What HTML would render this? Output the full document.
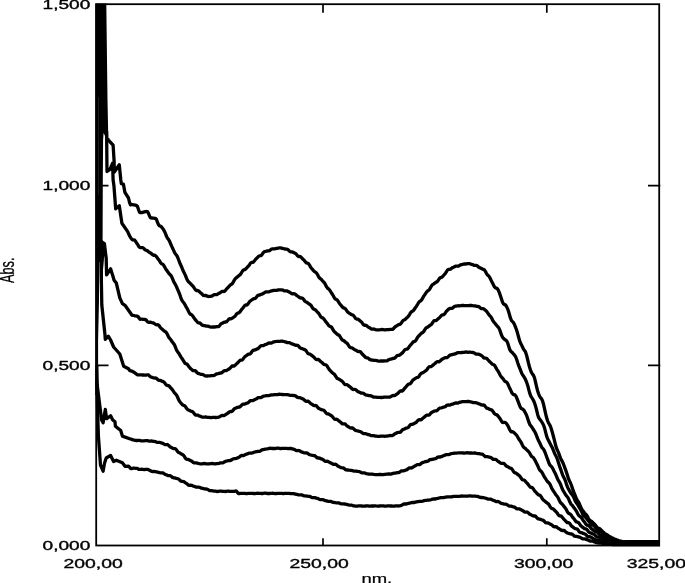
<!DOCTYPE html>
<html><head><meta charset="utf-8"><title>Abs. vs nm.</title>
<style>html,body{margin:0;padding:0;background:#fff}svg{display:block}</style></head>
<body><svg width="685" height="583" viewBox="0 0 685 583">
<rect width="685" height="583" fill="#fff"/>
<rect x="96.2" y="4.2" width="563.0" height="541.3" fill="none" stroke="#000" stroke-width="1.8"/>
<path d="M323.0 538.2V545.5 M323.0 4.2V12.8 M546.8 538.2V545.5 M546.8 4.2V12.8 M96.2 185.7H108.5 M648 185.7H660.3 M96.2 365.4H108.5 M648 365.4H660.3" stroke="#000" stroke-width="1.7" fill="none"/>
<polygon fill="#000" points="95.3,3.4 106.3,3.4 107.5,100 108.3,139 105.7,139 105.5,137 103.6,133 103.1,140 102.8,180 102.6,242 104.6,242.5 105.6,256 104.2,256.5 103,270 102.9,283 99.9,283 99.8,262 99.2,262 99.0,300 98.1,340 98.1,365 97,395 95.3,395"/>
<line x1="98.5" y1="97" x2="98.6" y2="195" stroke="#fff" stroke-width="0.4" opacity="0.3"/>
<clipPath id="cp"><rect x="95.3" y="3.3" width="564.8" height="543.1"/></clipPath><g clip-path="url(#cp)">
<polyline fill="none" stroke="#000" stroke-width="3.3" stroke-linejoin="round" stroke-linecap="butt" points="107.6,138.5 108.2,139.8 113.1,145.2 114.1,161.2 114.3,172.0 119.3,164.8 120.8,180.0 121.3,183.6 123.4,184.1 124.9,192.4 128.5,198.0 129.5,202.4 130.5,204.8 131.5,204.5 132.5,204.6 133.5,204.8 134.5,205.0 135.5,205.1 136.5,205.5 137.5,206.5 138.5,209.6 139.5,212.2 140.5,212.7 141.5,212.5 142.5,212.5 143.5,212.2 144.5,211.9 145.5,211.6 146.5,211.5 147.5,211.7 148.5,213.4 149.5,216.0 150.5,217.8 151.5,218.0 152.5,218.0 153.5,218.2 154.5,218.4 155.5,218.5 156.5,219.5 157.5,222.4 158.5,224.7 159.5,225.8 160.5,226.2 161.5,226.9 162.5,228.2 163.5,229.7 164.5,231.4 165.5,233.7 166.5,236.3 167.5,238.2 168.5,239.4 169.5,241.1 170.5,243.5 171.5,245.9 172.5,248.0 173.5,250.1 174.5,252.3 175.5,254.0 176.5,255.2 177.5,256.9 178.5,259.5 179.5,262.3 180.5,264.5 181.5,266.7 182.5,269.2 183.5,271.5 184.5,273.4 185.5,275.6 186.5,278.2 187.5,280.4 188.5,281.8 189.5,282.6 190.5,283.6 191.5,284.8 192.5,285.7 193.5,286.8 194.5,288.4 195.5,289.9 196.5,290.5 197.5,290.5 198.5,290.9 199.5,291.8 200.5,292.7 201.5,293.5 202.5,294.5 203.5,295.4 204.5,295.6 205.5,295.4 206.5,295.8 207.5,296.3 208.5,296.5 209.5,296.4 210.5,296.3 211.5,296.2 212.5,295.7 213.5,295.0 214.5,294.6 215.5,294.7 216.5,294.7 217.5,294.2 218.5,293.5 219.5,293.1 220.5,292.5 221.5,291.8 222.5,291.3 223.5,291.5 224.5,291.4 225.5,290.4 226.5,289.0 227.5,287.9 228.5,287.0 229.5,285.8 230.5,284.8 231.5,284.3 232.5,283.4 233.5,281.7 234.5,279.7 235.5,278.4 236.5,277.7 237.5,276.8 238.5,275.9 239.5,275.2 240.5,274.3 241.5,272.7 242.5,271.0 243.5,270.0 244.5,269.7 245.5,269.2 246.5,268.1 247.5,267.0 248.5,266.1 249.5,264.7 250.5,263.2 251.5,262.5 252.5,262.4 253.5,261.9 254.5,260.7 255.5,259.4 256.5,258.4 257.5,257.5 258.5,256.4 259.5,255.8 260.5,255.7 261.5,255.2 262.5,253.8 263.5,252.4 264.5,251.7 265.5,251.5 266.5,251.2 267.5,250.9 268.5,250.9 269.5,250.6 270.5,249.8 271.5,249.1 272.5,248.9 273.5,248.9 274.5,248.8 275.5,248.6 276.5,248.4 277.5,248.3 278.5,248.0 279.5,247.8 280.5,247.9 281.5,248.1 282.5,248.4 283.5,248.6 284.5,248.8 285.5,249.1 286.5,249.2 287.5,249.4 288.5,250.1 289.5,251.2 290.5,251.8 291.5,251.8 292.5,251.9 293.5,252.4 294.5,252.9 295.5,253.4 296.5,254.4 297.5,255.7 298.5,256.5 299.5,256.4 300.5,256.6 301.5,257.6 302.5,258.8 303.5,259.7 304.5,260.7 305.5,262.0 306.5,262.9 307.5,263.1 308.5,263.7 309.5,265.1 310.5,267.0 311.5,268.3 312.5,269.4 313.5,270.6 314.5,271.6 315.5,272.2 316.5,273.0 317.5,274.6 318.5,276.6 319.5,277.9 320.5,278.7 321.5,279.6 322.5,280.8 323.5,281.8 324.5,282.9 325.5,284.7 326.5,286.8 327.5,288.1 328.5,288.9 329.5,289.9 330.5,291.4 331.5,293.0 332.5,294.5 333.5,296.2 334.5,298.1 335.5,299.1 336.5,299.5 337.5,300.3 338.5,301.8 339.5,303.5 340.5,304.7 341.5,305.9 342.5,307.1 343.5,307.9 344.5,308.2 345.5,308.8 346.5,310.3 347.5,311.8 348.5,312.7 349.5,313.3 350.5,314.0 351.5,314.6 352.5,314.8 353.5,315.5 354.5,316.9 355.5,318.3 356.5,319.0 357.5,319.1 358.5,319.6 359.5,320.4 360.5,321.2 361.5,322.0 362.5,323.4 363.5,324.8 364.5,325.3 365.5,325.2 366.5,325.6 367.5,326.5 368.5,327.2 369.5,327.7 370.5,328.4 371.5,329.0 372.5,329.1 373.5,329.0 374.5,329.2 375.5,329.6 376.5,329.8 377.5,329.8 378.5,329.8 379.5,329.8 380.5,329.7 381.5,329.5 382.5,329.5 383.5,329.7 384.5,329.9 385.5,329.8 386.5,329.7 387.5,329.7 388.5,329.6 389.5,329.5 390.5,329.3 391.5,329.3 392.5,329.4 393.5,328.6 394.5,327.4 395.5,326.5 396.5,326.0 397.5,325.3 398.5,324.7 399.5,324.4 400.5,324.1 401.5,322.8 402.5,321.2 403.5,320.2 404.5,319.8 405.5,319.1 406.5,318.1 407.5,317.2 408.5,316.2 409.5,314.6 410.5,312.8 411.5,311.7 412.5,311.2 413.5,310.5 414.5,309.0 415.5,307.5 416.5,306.2 417.5,304.5 418.5,302.7 419.5,301.5 420.5,301.0 421.5,300.1 422.5,298.4 423.5,296.5 424.5,295.1 425.5,293.6 426.5,292.1 427.5,291.0 428.5,290.4 429.5,289.4 430.5,287.7 431.5,285.8 432.5,284.7 433.5,284.1 434.5,283.3 435.5,282.6 436.5,282.1 437.5,281.4 438.5,279.9 439.5,278.4 440.5,277.6 441.5,277.3 442.5,276.6 443.5,275.5 444.5,274.4 445.5,273.2 446.5,271.6 447.5,270.0 448.5,269.3 449.5,269.4 450.5,269.1 451.5,268.3 452.5,267.6 453.5,267.2 454.5,266.7 455.5,266.2 456.5,266.1 457.5,266.2 458.5,266.1 459.5,265.5 460.5,264.9 461.5,264.6 462.5,264.4 463.5,264.1 464.5,264.0 465.5,264.0 466.5,263.9 467.5,263.7 468.5,263.6 469.5,263.7 470.5,264.0 471.5,264.3 472.5,264.6 473.5,265.1 474.5,265.4 475.5,265.3 476.5,265.3 477.5,266.0 478.5,267.0 479.5,267.6 480.5,268.0 481.5,268.5 482.5,269.1 483.5,269.4 484.5,270.0 485.5,271.6 486.5,273.6 487.5,274.9 488.5,275.8 489.5,277.0 490.5,279.0 491.5,281.1 492.5,283.1 493.5,285.0 494.5,286.9 495.5,287.9 496.5,288.2 497.5,288.9 498.5,290.6 499.5,293.1 500.5,296.0 501.5,299.1 502.5,302.2 503.5,303.9 504.5,304.4 505.5,305.0 506.5,306.5 507.5,308.6 508.5,311.3 509.5,314.7 510.5,318.2 511.5,320.7 512.5,321.7 513.5,322.7 514.5,324.6 515.5,327.1 516.5,329.8 517.5,333.1 518.5,336.8 519.5,340.4 520.5,343.0 521.5,344.9 522.5,347.0 523.5,349.1 524.5,350.5 525.5,351.9 526.5,354.9 527.5,359.0 528.5,363.2 529.5,367.0 530.5,370.1 531.5,372.5 532.5,374.1 533.5,375.3 534.5,377.8 535.5,382.0 536.5,386.5 537.5,390.4 538.5,393.5 539.5,396.0 540.5,397.6 541.5,398.7 542.5,400.7 543.5,404.2 544.5,408.7 545.5,413.2 546.5,417.3 547.5,420.6 548.5,422.9 549.5,424.5 550.5,426.5 551.5,429.5 552.5,433.0 553.5,436.7 554.5,440.7 555.5,444.8 556.5,448.2 557.5,450.4 558.5,452.6 559.5,455.4 560.5,458.1 561.5,460.2 562.5,461.9 563.5,464.2 564.5,466.9 565.5,469.6 566.5,472.4 567.5,475.5 568.5,478.7 569.5,481.0 570.5,483.0 571.5,485.5 572.5,488.6 573.5,491.5 574.5,493.9 575.5,496.4 576.5,498.8 577.5,500.6 578.5,502.0 579.5,504.0 580.5,506.5 581.5,508.8 582.5,510.2 583.5,511.5 584.5,513.0 585.5,514.1 586.5,515.0 587.5,516.5 588.5,518.5 589.5,520.1 590.5,520.9 591.5,521.3 592.5,522.2 593.5,523.3 594.5,524.2 595.5,525.3 596.5,526.7 597.5,527.8 598.5,528.2 599.5,528.6 600.5,529.5 601.5,530.5 602.5,531.5 603.5,532.3 604.5,533.2 605.5,534.0 606.5,534.6 607.5,535.1 608.5,535.8 609.5,536.5 610.5,537.1 611.5,537.6 612.5,538.0 613.5,538.5 614.5,539.0 615.5,539.4 616.5,539.8 617.5,540.1 618.5,540.5 619.5,540.8 620.5,541.1 621.5,541.4 622.5,541.7 623.5,541.9 624.5,542.2 625.5,542.4 626.5,542.7 627.5,542.9 628.5,543.0 629.5,543.1 630.5,543.2 631.5,543.3 632.5,543.4 633.5,543.5 634.5,543.6 635.5,543.6 636.5,543.7 637.5,543.8 638.5,543.8 639.5,543.9 640.5,543.9 641.5,543.9 642.5,544.0 643.5,544.0 644.5,544.0 645.5,544.0 646.5,544.0 647.5,544.0 648.5,544.0 649.5,544.0 650.5,544.0 651.5,544.0 652.5,544.0 653.5,544.0 654.5,544.0 655.5,544.0 656.5,544.0 657.5,544.0 658.5,544.0 659.5,544.0"/>
<polyline fill="none" stroke="#000" stroke-width="3.3" stroke-linejoin="round" stroke-linecap="butt" points="106.6,131.0 107.0,171.5 110.0,169.4 112.6,163.2 113.1,180.0 113.9,185.4 115.7,208.8 119.3,205.7 121.9,223.2 127.7,231.6 128.7,234.1 129.7,236.1 130.7,237.7 131.7,239.1 132.7,239.8 133.7,239.9 134.7,240.2 135.7,241.5 136.7,243.2 137.7,244.5 138.7,246.4 139.7,247.5 140.7,247.7 141.7,247.7 142.7,247.7 143.7,248.3 144.7,249.6 145.7,250.2 146.7,250.4 147.7,251.0 148.7,251.9 149.7,252.5 150.7,253.1 151.7,253.9 152.7,254.8 153.7,255.3 154.7,255.2 155.7,255.8 156.7,257.1 157.7,258.4 158.7,259.7 159.7,261.2 160.7,262.8 161.7,263.8 162.7,264.2 163.7,265.3 164.7,267.1 165.7,269.0 166.7,270.3 167.7,271.7 168.7,273.2 169.7,274.3 170.7,275.2 171.7,276.8 172.7,279.2 173.7,281.6 174.7,283.3 175.7,285.1 176.7,287.3 177.7,289.6 178.7,291.8 179.7,294.3 180.7,297.3 181.7,299.9 182.7,301.5 183.7,302.6 184.7,304.2 185.7,306.1 186.7,307.8 187.7,309.6 188.7,311.7 189.7,313.5 190.7,314.4 191.7,314.8 192.7,315.8 193.7,317.5 194.7,318.9 195.7,320.1 196.7,321.3 197.7,322.5 198.7,322.9 199.7,322.9 200.7,323.6 201.7,324.8 202.7,325.4 203.7,325.5 204.7,325.7 205.7,326.0 206.7,326.1 207.7,326.1 208.7,326.4 209.7,326.8 210.7,327.0 211.7,327.1 212.7,327.0 213.7,327.0 214.7,327.0 215.7,326.9 216.7,326.6 217.7,326.7 218.7,326.6 219.7,325.5 220.7,324.1 221.7,323.4 222.7,323.1 223.7,322.6 224.7,322.1 225.7,322.0 226.7,321.6 227.7,320.5 228.7,319.2 229.7,318.7 230.7,318.8 231.7,318.5 232.7,317.8 233.7,317.2 234.7,316.5 235.7,315.2 236.7,313.8 237.7,313.1 238.7,312.9 239.7,312.2 240.7,310.8 241.7,309.4 242.7,308.2 243.7,306.9 244.7,305.6 245.7,305.0 246.7,305.0 247.7,304.4 248.7,302.9 249.7,301.5 250.7,300.7 251.7,300.0 252.7,299.2 253.7,298.7 254.7,298.7 255.7,298.1 256.7,296.8 257.7,295.5 258.7,295.1 259.7,295.0 260.7,294.5 261.7,294.1 262.7,293.8 263.7,293.3 264.7,292.5 265.7,292.0 266.7,291.9 267.7,291.9 268.7,291.8 269.7,291.5 270.7,291.2 271.7,290.9 272.7,290.6 273.7,290.3 274.7,290.3 275.7,290.3 276.7,290.3 277.7,290.0 278.7,289.9 279.7,289.9 280.7,289.8 281.7,289.9 282.7,290.1 283.7,290.6 284.7,290.9 285.7,290.9 286.7,290.9 287.7,291.3 288.7,291.8 289.7,292.3 290.7,292.9 291.7,293.6 292.7,293.9 293.7,293.7 294.7,293.8 295.7,294.5 296.7,295.5 297.7,296.2 298.7,296.8 299.7,297.6 300.7,298.0 301.7,298.0 302.7,298.3 303.7,299.5 304.7,301.0 305.7,301.8 306.7,302.2 307.7,302.9 308.7,303.7 309.7,304.2 310.7,305.0 311.7,306.5 312.7,308.2 313.7,309.1 314.7,309.5 315.7,310.1 316.7,311.3 317.7,312.3 318.7,313.4 319.7,315.0 320.7,316.7 321.7,317.6 322.7,317.9 323.7,318.7 324.7,320.1 325.7,321.6 326.7,322.8 327.7,324.1 328.7,325.5 329.7,326.3 330.7,326.6 331.7,327.4 332.7,329.1 333.7,330.8 334.7,331.9 335.7,332.8 336.7,333.8 337.7,334.6 338.7,335.0 339.7,336.0 340.7,337.7 341.7,339.3 342.7,340.2 343.7,340.6 344.7,341.4 345.7,342.3 346.7,343.0 347.7,344.0 348.7,345.6 349.7,347.1 350.7,347.7 351.7,347.8 352.7,348.2 353.7,349.1 354.7,349.7 355.7,350.1 356.7,350.7 357.7,351.4 358.7,351.6 359.7,351.5 360.7,352.0 361.7,353.4 362.7,354.6 363.7,355.5 364.7,356.5 365.7,357.5 366.7,357.8 367.7,357.8 368.7,358.5 369.7,359.5 370.7,359.9 371.7,360.0 372.7,360.1 373.7,360.3 374.7,360.4 375.7,360.4 376.7,360.6 377.7,360.9 378.7,361.1 379.7,361.1 380.7,361.0 381.7,361.0 382.7,361.0 383.7,361.0 384.7,360.9 385.7,360.9 386.7,360.9 387.7,360.4 388.7,359.7 389.7,359.3 390.7,359.1 391.7,358.9 392.7,358.5 393.7,358.4 394.7,358.1 395.7,357.2 396.7,356.0 397.7,355.4 398.7,355.4 399.7,355.1 400.7,354.2 401.7,353.4 402.7,352.6 403.7,351.3 404.7,349.9 405.7,349.3 406.7,349.2 407.7,348.7 408.7,347.4 409.7,346.0 410.7,344.9 411.7,343.7 412.7,342.4 413.7,341.6 414.7,341.3 415.7,340.6 416.7,338.9 417.7,337.1 418.7,336.0 419.7,335.0 420.7,333.9 421.7,333.0 422.7,332.5 423.7,331.6 424.7,329.9 425.7,328.3 426.7,327.5 427.7,327.1 428.7,326.4 429.7,325.5 430.7,324.9 431.7,324.0 432.7,322.5 433.7,321.1 434.7,320.6 435.7,320.6 436.7,320.2 437.7,319.2 438.7,318.3 439.7,317.5 440.7,316.3 441.7,315.2 442.7,314.8 443.7,314.6 444.7,313.8 445.7,312.3 446.7,310.9 447.7,310.0 448.7,309.1 449.7,308.5 450.7,308.4 451.7,308.4 452.7,308.0 453.7,307.1 454.7,306.3 455.7,306.1 456.7,306.0 457.7,305.8 458.7,305.7 459.7,305.8 460.7,305.7 461.7,305.5 462.7,305.4 463.7,305.5 464.7,305.7 465.7,305.7 466.7,305.7 467.7,305.7 468.7,305.6 469.7,305.5 470.7,305.4 471.7,305.5 472.7,305.7 473.7,305.8 474.7,305.9 475.7,306.0 476.7,306.3 477.7,306.4 478.7,306.6 479.7,307.4 480.7,308.2 481.7,308.7 482.7,308.7 483.7,308.9 484.7,309.7 485.7,310.6 486.7,311.5 487.7,312.9 488.7,314.4 489.7,315.6 490.7,316.6 491.7,318.2 492.7,320.3 493.7,321.9 494.7,323.0 495.7,324.2 496.7,325.5 497.7,326.6 498.7,327.8 499.7,329.7 500.7,332.7 501.7,335.6 502.7,337.5 503.7,338.6 504.7,339.5 505.7,340.1 506.7,341.0 507.7,343.0 508.7,346.2 509.7,349.4 510.7,351.2 511.7,352.0 512.7,353.0 513.7,354.2 514.7,355.3 515.7,356.9 516.7,359.5 517.7,362.8 518.7,365.6 519.7,368.0 520.7,370.6 521.7,373.2 522.7,375.0 523.7,376.4 524.7,378.1 525.7,380.1 526.7,382.4 527.7,385.4 528.7,389.3 529.7,393.2 530.7,395.8 531.7,397.5 532.7,399.1 533.7,401.0 534.7,403.4 535.7,406.6 536.7,410.5 537.7,414.7 538.7,417.6 539.7,419.2 540.7,420.4 541.7,421.9 542.7,423.5 543.7,425.5 544.7,428.6 545.7,432.6 546.7,436.4 547.7,439.0 548.7,440.8 549.7,442.8 550.7,444.8 551.7,446.6 552.7,448.6 553.7,451.1 554.7,453.7 555.7,455.6 556.7,457.5 557.7,460.2 558.7,463.5 559.7,466.6 560.7,469.4 561.7,472.3 562.7,475.1 563.7,477.2 564.7,479.1 565.7,481.7 566.7,484.9 567.7,487.5 568.7,489.4 569.7,491.1 570.7,492.9 571.7,494.2 572.7,495.4 573.7,497.2 574.7,499.7 575.7,501.9 576.7,503.3 577.7,504.6 578.7,506.4 579.7,508.2 580.7,509.8 581.7,511.8 582.7,514.2 583.7,516.0 584.7,516.7 585.7,517.4 586.7,518.6 587.7,520.0 588.7,521.2 589.7,522.4 590.7,523.9 591.7,525.0 592.7,525.2 593.7,525.5 594.7,526.6 595.7,527.9 596.7,529.0 597.7,529.7 598.7,530.6 599.7,531.3 600.7,531.7 601.7,532.1 602.7,533.0 603.7,534.0 604.7,534.8 605.7,535.3 606.7,535.9 607.7,536.5 608.7,537.1 609.7,537.6 610.7,538.2 611.7,538.7 612.7,539.1 613.7,539.5 614.7,539.9 615.7,540.3 616.7,540.6 617.7,541.0 618.7,541.3 619.7,541.5 620.7,541.8 621.7,542.0 622.7,542.2 623.7,542.3 624.7,542.5 625.7,542.7 626.7,542.8 627.7,543.0 628.7,543.1 629.7,543.2 630.7,543.4 631.7,543.5 632.7,543.6 633.7,543.7 634.7,543.8 635.7,543.8 636.7,543.9 637.7,544.0 638.7,544.0 639.7,544.0 640.7,544.0 641.7,544.0 642.7,544.0 643.7,544.0 644.7,544.0 645.7,544.0 646.7,544.0 647.7,544.0 648.7,544.0 649.7,544.0 650.7,544.0 651.7,544.0 652.7,544.0 653.7,544.0 654.7,544.0 655.7,544.0 656.7,544.0 657.7,544.0 658.7,544.0 659.5,544.0"/>
<polyline fill="none" stroke="#000" stroke-width="3.3" stroke-linejoin="round" stroke-linecap="butt" points="101.0,241.5 104.4,243.6 106.2,258.3 106.6,274.9 110.6,268.8 112.8,275.8 114.1,280.2 116.3,283.0 119.8,297.9 122.4,303.6 125.0,305.3 132.0,315.2 133.0,315.3 134.0,315.5 135.0,315.8 136.0,316.0 137.0,316.1 138.0,316.5 139.0,318.0 140.0,319.3 141.0,319.2 142.0,319.1 143.0,319.3 144.0,319.4 145.0,319.5 146.0,319.9 147.0,321.1 148.0,322.2 149.0,322.3 150.0,322.2 151.0,322.4 152.0,322.7 153.0,322.9 154.0,323.3 155.0,324.0 156.0,324.7 157.0,324.8 158.0,324.7 159.0,325.5 160.0,327.0 161.0,328.2 162.0,329.0 163.0,329.9 164.0,330.9 165.0,331.5 166.0,332.1 167.0,333.6 168.0,335.8 169.0,337.6 170.0,338.8 171.0,340.0 172.0,341.5 173.0,342.9 174.0,344.1 175.0,346.1 176.0,348.7 177.0,350.9 178.0,352.3 179.0,353.6 180.0,355.3 181.0,357.1 182.0,358.5 183.0,360.0 184.0,361.8 185.0,363.2 186.0,363.7 187.0,364.1 188.0,365.3 189.0,366.8 190.0,368.0 191.0,368.9 192.0,369.9 193.0,370.6 194.0,370.6 195.0,370.6 196.0,371.4 197.0,372.6 198.0,373.3 199.0,373.6 200.0,374.0 201.0,374.3 202.0,374.4 203.0,374.6 204.0,375.2 205.0,375.8 206.0,376.0 207.0,376.0 208.0,375.9 209.0,375.9 210.0,375.8 211.0,375.7 212.0,375.6 213.0,375.7 214.0,375.5 215.0,374.9 216.0,374.2 217.0,373.9 218.0,373.7 219.0,373.4 220.0,373.1 221.0,373.0 222.0,372.6 223.0,371.7 224.0,370.8 225.0,370.6 226.0,370.6 227.0,370.2 228.0,369.6 229.0,369.1 230.0,368.3 231.0,367.1 232.0,366.0 233.0,365.9 234.0,366.0 235.0,365.4 236.0,364.4 237.0,363.4 238.0,362.5 239.0,361.4 240.0,360.4 241.0,360.1 242.0,360.0 243.0,359.2 244.0,357.7 245.0,356.5 246.0,355.8 247.0,355.1 248.0,354.4 249.0,354.1 250.0,353.9 251.0,353.0 252.0,351.5 253.0,350.4 254.0,350.1 255.0,349.9 256.0,349.4 257.0,348.9 258.0,348.6 259.0,347.8 260.0,346.5 261.0,345.7 262.0,345.7 263.0,345.7 264.0,345.3 265.0,344.7 266.0,344.4 267.0,344.0 268.0,343.4 269.0,343.0 270.0,343.0 271.0,343.1 272.0,342.7 273.0,342.2 274.0,341.9 275.0,341.7 276.0,341.5 277.0,341.3 278.0,341.4 279.0,341.4 280.0,341.3 281.0,341.2 282.0,341.1 283.0,341.3 284.0,341.5 285.0,341.8 286.0,342.1 287.0,342.6 288.0,342.7 289.0,342.6 290.0,342.8 291.0,343.4 292.0,343.9 293.0,344.2 294.0,344.6 295.0,345.1 296.0,345.3 297.0,345.2 298.0,345.6 299.0,346.7 300.0,347.8 301.0,348.3 302.0,348.5 303.0,349.0 304.0,349.4 305.0,349.8 306.0,350.6 307.0,352.1 308.0,353.5 309.0,354.0 310.0,354.2 311.0,354.8 312.0,355.7 313.0,356.4 314.0,357.2 315.0,358.4 316.0,359.4 317.0,359.6 318.0,359.4 319.0,359.8 320.0,360.9 321.0,361.8 322.0,362.5 323.0,363.5 324.0,364.4 325.0,364.7 326.0,364.8 327.0,365.8 328.0,367.6 329.0,369.2 330.0,370.3 331.0,371.4 332.0,372.5 333.0,373.3 334.0,373.9 335.0,375.1 336.0,376.8 337.0,378.2 338.0,378.7 339.0,379.1 340.0,379.8 341.0,380.5 342.0,381.1 343.0,382.1 344.0,383.5 345.0,384.6 346.0,384.7 347.0,384.7 348.0,385.3 349.0,386.2 350.0,386.9 351.0,387.7 352.0,388.8 353.0,389.5 354.0,389.4 355.0,389.3 356.0,389.9 357.0,390.9 358.0,391.6 359.0,392.0 360.0,392.6 361.0,393.1 362.0,393.1 363.0,393.1 364.0,393.7 365.0,394.6 366.0,395.1 367.0,395.2 368.0,395.4 369.0,395.6 370.0,395.7 371.0,395.9 372.0,396.3 373.0,396.9 374.0,397.2 375.0,397.1 376.0,397.2 377.0,397.3 378.0,397.3 379.0,397.3 380.0,397.4 381.0,397.5 382.0,397.5 383.0,397.3 384.0,397.1 385.0,397.1 386.0,397.1 387.0,397.1 388.0,397.1 389.0,397.1 390.0,397.0 391.0,396.5 392.0,395.8 393.0,395.5 394.0,395.6 395.0,395.3 396.0,394.6 397.0,394.0 398.0,393.3 399.0,392.1 400.0,391.1 401.0,390.9 402.0,391.1 403.0,390.4 404.0,389.1 405.0,387.9 406.0,386.8 407.0,385.6 408.0,384.5 409.0,384.0 410.0,383.8 411.0,382.9 412.0,381.3 413.0,380.0 414.0,379.4 415.0,378.7 416.0,378.0 417.0,377.5 418.0,377.3 419.0,376.3 420.0,374.7 421.0,373.5 422.0,373.0 423.0,372.7 424.0,372.0 425.0,371.2 426.0,370.6 427.0,369.5 428.0,368.0 429.0,366.9 430.0,366.7 431.0,366.7 432.0,366.0 433.0,365.1 434.0,364.3 435.0,363.5 436.0,362.5 437.0,361.7 438.0,361.7 439.0,361.8 440.0,361.2 441.0,360.1 442.0,359.3 443.0,358.8 444.0,358.2 445.0,357.7 446.0,357.7 447.0,357.7 448.0,357.0 449.0,355.9 450.0,355.2 451.0,354.9 452.0,354.7 453.0,354.3 454.0,354.1 455.0,353.9 456.0,353.4 457.0,352.9 458.0,352.7 459.0,352.7 460.0,352.7 461.0,352.6 462.0,352.5 463.0,352.4 464.0,352.3 465.0,352.1 466.0,352.0 467.0,352.1 468.0,352.3 469.0,352.2 470.0,352.2 471.0,352.3 472.0,352.4 473.0,352.5 474.0,352.8 475.0,353.4 476.0,354.1 477.0,354.2 478.0,354.2 479.0,354.4 480.0,354.8 481.0,355.3 482.0,355.9 483.0,357.0 484.0,358.0 485.0,358.2 486.0,358.1 487.0,358.7 488.0,359.9 489.0,361.0 490.0,361.9 491.0,362.9 492.0,364.0 493.0,364.5 494.0,364.8 495.0,365.9 496.0,367.9 497.0,369.6 498.0,371.0 499.0,372.8 500.0,374.8 501.0,376.5 502.0,377.6 503.0,378.7 504.0,380.2 505.0,381.4 506.0,381.8 507.0,382.5 508.0,384.3 509.0,386.6 510.0,388.7 511.0,390.9 512.0,393.0 513.0,394.3 514.0,394.6 515.0,394.9 516.0,396.2 517.0,398.6 518.0,401.2 519.0,403.8 520.0,406.4 521.0,408.3 522.0,408.9 523.0,409.3 524.0,410.4 525.0,412.2 526.0,414.1 527.0,416.4 528.0,419.4 529.0,422.5 530.0,424.7 531.0,426.0 532.0,427.3 533.0,429.0 534.0,430.5 535.0,432.1 536.0,434.3 537.0,437.0 538.0,439.4 539.0,441.4 540.0,443.5 541.0,445.8 542.0,447.6 543.0,448.6 544.0,450.0 545.0,452.3 546.0,455.0 547.0,457.7 548.0,460.4 549.0,463.2 550.0,465.2 551.0,466.2 552.0,467.2 553.0,469.0 554.0,471.1 555.0,473.1 556.0,475.1 557.0,477.5 558.0,479.8 559.0,481.4 560.0,483.1 561.0,485.5 562.0,488.2 563.0,490.3 564.0,492.0 565.0,493.7 566.0,495.3 567.0,496.5 568.0,497.8 569.0,499.9 570.0,502.3 571.0,504.1 572.0,505.1 573.0,506.3 574.0,507.8 575.0,509.1 576.0,510.5 577.0,512.3 578.0,514.4 579.0,515.8 580.0,516.4 581.0,517.2 582.0,518.7 583.0,520.2 584.0,521.4 585.0,522.8 586.0,524.3 587.0,525.2 588.0,525.3 589.0,525.7 590.0,526.9 591.0,528.3 592.0,529.2 593.0,529.9 594.0,530.7 595.0,531.3 596.0,531.4 597.0,531.9 598.0,533.0 599.0,534.1 600.0,534.8 601.0,535.2 602.0,535.8 603.0,536.3 604.0,536.7 605.0,537.2 606.0,537.9 607.0,538.4 608.0,538.8 609.0,539.2 610.0,539.5 611.0,539.9 612.0,540.3 613.0,540.7 614.0,541.0 615.0,541.3 616.0,541.6 617.0,541.8 618.0,542.1 619.0,542.2 620.0,542.4 621.0,542.6 622.0,542.7 623.0,542.9 624.0,543.0 625.0,543.2 626.0,543.3 627.0,543.5 628.0,543.6 629.0,543.7 630.0,543.8 631.0,543.9 632.0,543.9 633.0,544.0 634.0,544.0 635.0,544.0 636.0,544.0 637.0,544.0 638.0,544.0 639.0,544.0 640.0,544.0 641.0,544.0 642.0,544.0 643.0,544.0 644.0,544.0 645.0,544.0 646.0,544.0 647.0,544.0 648.0,544.0 649.0,544.0 650.0,544.0 651.0,544.0 652.0,544.0 653.0,544.0 654.0,544.0 655.0,544.0 656.0,544.0 657.0,544.0 658.0,544.0 659.0,544.0 659.5,544.0"/>
<polyline fill="none" stroke="#000" stroke-width="3.3" stroke-linejoin="round" stroke-linecap="butt" points="100.8,240.0 101.4,283.0 101.8,305.0 104.9,334.0 105.3,339.3 108.3,336.2 110.6,340.0 113.6,347.0 119.8,354.0 123.7,366.3 128.5,368.7 129.5,370.3 130.5,370.9 131.5,371.0 132.5,371.4 133.5,372.1 134.5,372.6 135.5,373.3 136.5,374.2 137.5,374.8 138.5,374.8 139.5,374.8 140.5,374.8 141.5,374.9 142.5,375.0 143.5,375.0 144.5,375.1 145.5,375.1 146.5,375.0 147.5,374.8 148.5,374.8 149.5,376.0 150.5,376.8 151.5,377.2 152.5,377.5 153.5,377.8 154.5,378.0 155.5,378.0 156.5,378.4 157.5,379.4 158.5,380.2 159.5,380.4 160.5,380.5 161.5,380.9 162.5,381.4 163.5,381.8 164.5,382.6 165.5,384.0 166.5,385.2 167.5,385.5 168.5,385.6 169.5,386.4 170.5,387.6 171.5,388.7 172.5,389.9 173.5,391.4 174.5,392.9 175.5,393.9 176.5,395.0 177.5,397.0 178.5,399.4 179.5,401.2 180.5,402.5 181.5,403.7 182.5,404.8 183.5,405.3 184.5,405.6 185.5,406.6 186.5,408.3 187.5,409.5 188.5,410.0 189.5,410.4 190.5,411.0 191.5,411.3 192.5,411.6 193.5,412.6 194.5,414.1 195.5,415.0 196.5,415.1 197.5,415.1 198.5,415.6 199.5,416.0 200.5,416.4 201.5,416.8 202.5,417.1 203.5,417.2 204.5,417.1 205.5,417.0 206.5,417.1 207.5,417.3 208.5,417.3 209.5,417.4 210.5,417.6 211.5,417.6 212.5,417.4 213.5,417.3 214.5,417.4 215.5,417.5 216.5,417.5 217.5,417.3 218.5,417.1 219.5,416.8 220.5,416.2 221.5,415.6 222.5,415.4 223.5,415.6 224.5,415.3 225.5,414.7 226.5,414.0 227.5,413.4 228.5,412.6 229.5,411.8 230.5,411.5 231.5,411.6 232.5,411.1 233.5,409.7 234.5,408.6 235.5,408.2 236.5,407.8 237.5,407.3 238.5,407.1 239.5,407.0 240.5,406.4 241.5,405.3 242.5,404.4 243.5,404.1 244.5,404.1 245.5,403.7 246.5,403.3 247.5,403.0 248.5,402.4 249.5,401.4 250.5,400.6 251.5,400.6 252.5,400.7 253.5,400.3 254.5,399.7 255.5,399.2 256.5,398.8 257.5,398.1 258.5,397.6 259.5,397.6 260.5,397.7 261.5,397.3 262.5,396.6 263.5,396.2 264.5,396.0 265.5,395.8 266.5,395.6 267.5,395.6 268.5,395.6 269.5,395.4 270.5,395.1 271.5,394.8 272.5,394.8 273.5,394.8 274.5,394.7 275.5,394.7 276.5,394.7 277.5,394.6 278.5,394.3 279.5,394.2 280.5,394.3 281.5,394.5 282.5,394.5 283.5,394.6 284.5,394.6 285.5,394.6 286.5,394.6 287.5,394.6 288.5,394.9 289.5,395.2 290.5,395.3 291.5,395.3 292.5,395.4 293.5,395.5 294.5,395.6 295.5,395.9 296.5,396.6 297.5,397.4 298.5,397.6 299.5,397.6 300.5,397.8 301.5,398.4 302.5,398.8 303.5,399.3 304.5,400.2 305.5,401.1 306.5,401.3 307.5,401.1 308.5,401.4 309.5,402.4 310.5,403.4 311.5,404.0 312.5,404.7 313.5,405.4 314.5,405.6 315.5,405.5 316.5,405.9 317.5,407.2 318.5,408.3 319.5,408.8 320.5,409.2 321.5,409.7 322.5,410.0 323.5,410.2 324.5,410.8 325.5,412.3 326.5,413.5 327.5,413.9 328.5,414.0 329.5,414.5 330.5,415.3 331.5,415.8 332.5,416.7 333.5,418.0 334.5,419.1 335.5,419.3 336.5,419.2 337.5,419.7 338.5,420.6 339.5,421.4 340.5,422.1 341.5,423.1 342.5,423.9 343.5,423.9 344.5,423.8 345.5,424.3 346.5,425.5 347.5,426.3 348.5,426.8 349.5,427.4 350.5,427.9 351.5,428.0 352.5,428.0 353.5,428.6 354.5,429.7 355.5,430.4 356.5,430.7 357.5,430.8 358.5,431.2 359.5,431.5 360.5,431.7 361.5,432.2 362.5,433.1 363.5,433.7 364.5,433.7 365.5,433.7 366.5,434.0 367.5,434.3 368.5,434.6 369.5,434.9 370.5,435.3 371.5,435.6 372.5,435.6 373.5,435.6 374.5,435.8 375.5,436.1 376.5,436.2 377.5,436.3 378.5,436.4 379.5,436.4 380.5,436.2 381.5,436.1 382.5,436.1 383.5,436.2 384.5,436.3 385.5,436.2 386.5,436.1 387.5,436.0 388.5,435.8 389.5,435.6 390.5,435.5 391.5,435.6 392.5,435.5 393.5,434.8 394.5,434.1 395.5,433.6 396.5,433.1 397.5,432.5 398.5,432.3 399.5,432.4 400.5,432.1 401.5,430.9 402.5,429.8 403.5,429.3 404.5,429.0 405.5,428.4 406.5,428.0 407.5,427.8 408.5,427.2 409.5,425.8 410.5,424.6 411.5,424.3 412.5,424.3 413.5,423.9 414.5,423.3 415.5,422.8 416.5,422.1 417.5,420.8 418.5,419.8 419.5,419.7 420.5,419.9 421.5,419.4 422.5,418.5 423.5,417.7 424.5,416.9 425.5,416.0 426.5,415.2 427.5,415.1 428.5,415.2 429.5,414.7 430.5,413.4 431.5,412.5 432.5,412.0 433.5,411.5 434.5,411.0 435.5,410.8 436.5,410.8 437.5,410.2 438.5,409.0 439.5,408.2 440.5,408.0 441.5,407.8 442.5,407.5 443.5,407.2 444.5,407.0 445.5,406.5 446.5,405.6 447.5,405.1 448.5,405.0 449.5,405.1 450.5,404.8 451.5,404.4 452.5,404.1 453.5,403.8 454.5,403.3 455.5,403.0 456.5,403.0 457.5,403.1 458.5,402.8 459.5,402.4 460.5,402.1 461.5,401.9 462.5,401.7 463.5,401.6 464.5,401.6 465.5,401.7 466.5,401.6 467.5,401.5 468.5,401.5 469.5,401.6 470.5,401.8 471.5,402.0 472.5,402.3 473.5,402.6 474.5,402.7 475.5,402.6 476.5,402.8 477.5,403.2 478.5,403.7 479.5,404.0 480.5,404.4 481.5,404.9 482.5,405.1 483.5,405.0 484.5,405.4 485.5,406.7 486.5,407.9 487.5,408.4 488.5,408.7 489.5,409.2 490.5,409.7 491.5,409.9 492.5,410.7 493.5,412.3 494.5,413.7 495.5,414.3 496.5,414.6 497.5,415.4 498.5,416.6 499.5,417.9 500.5,419.4 501.5,421.2 502.5,422.4 503.5,422.5 504.5,422.3 505.5,422.5 506.5,423.6 507.5,425.1 508.5,427.0 509.5,429.2 510.5,431.1 511.5,431.8 512.5,431.7 513.5,432.2 514.5,433.2 515.5,434.2 516.5,435.2 517.5,436.7 518.5,438.5 519.5,440.0 520.5,441.4 521.5,443.1 522.5,445.3 523.5,447.0 524.5,447.9 525.5,448.5 526.5,449.6 527.5,450.6 528.5,451.5 529.5,452.8 530.5,454.7 531.5,456.3 532.5,457.0 533.5,457.8 534.5,459.3 535.5,461.3 536.5,463.2 537.5,465.2 538.5,467.6 539.5,469.7 540.5,470.8 541.5,471.7 542.5,473.3 543.5,475.3 544.5,477.1 545.5,478.5 546.5,480.1 547.5,481.6 548.5,482.5 549.5,483.4 550.5,485.3 551.5,487.7 552.5,489.7 553.5,491.2 554.5,492.7 555.5,494.2 556.5,495.5 557.5,496.7 558.5,498.5 559.5,500.8 560.5,502.6 561.5,503.5 562.5,504.4 563.5,505.7 564.5,507.1 565.5,508.3 566.5,509.9 567.5,511.9 568.5,513.2 569.5,513.7 570.5,514.3 571.5,515.6 572.5,517.1 573.5,518.3 574.5,519.6 575.5,521.0 576.5,522.0 577.5,522.2 578.5,522.6 579.5,523.8 580.5,525.3 581.5,526.4 582.5,527.1 583.5,527.9 584.5,528.6 585.5,528.8 586.5,529.1 587.5,530.3 588.5,531.7 589.5,532.6 590.5,532.8 591.5,533.2 592.5,533.7 593.5,534.1 594.5,534.6 595.5,535.6 596.5,536.7 597.5,537.2 598.5,537.2 599.5,537.5 600.5,538.0 601.5,538.5 602.5,538.9 603.5,539.4 604.5,540.0 605.5,540.3 606.5,540.5 607.5,540.8 608.5,541.2 609.5,541.5 610.5,541.8 611.5,542.0 612.5,542.2 613.5,542.3 614.5,542.5 615.5,542.7 616.5,542.8 617.5,543.0 618.5,543.1 619.5,543.2 620.5,543.4 621.5,543.5 622.5,543.6 623.5,543.7 624.5,543.8 625.5,543.8 626.5,543.9 627.5,543.9 628.5,544.0 629.5,544.0 630.5,544.0 631.5,544.0 632.5,544.0 633.5,544.0 634.5,544.0 635.5,544.0 636.5,544.0 637.5,544.0 638.5,544.0 639.5,544.0 640.5,544.0 641.5,544.0 642.5,544.0 643.5,544.0 644.5,544.0 645.5,544.0 646.5,544.0 647.5,544.0 648.5,544.0 649.5,544.0 650.5,544.0 651.5,544.0 652.5,544.0 653.5,544.0 654.5,544.0 655.5,544.0 656.5,544.0 657.5,544.0 658.5,544.0 659.5,544.0"/>
<polyline fill="none" stroke="#000" stroke-width="3.3" stroke-linejoin="round" stroke-linecap="butt" points="96.8,365.0 97.2,385.0 101.6,420.0 103.1,422.7 105.3,409.5 106.6,418.7 110.6,415.7 112.8,420.0 115.0,421.8 115.4,426.2 120.7,430.5 122.4,436.1 130.3,439.0 131.3,439.2 132.3,439.6 133.3,440.0 134.3,440.2 135.3,440.4 136.3,440.5 137.3,440.5 138.3,440.4 139.3,440.4 140.3,440.6 141.3,440.8 142.3,440.8 143.3,440.8 144.3,440.8 145.3,440.7 146.3,440.6 147.3,440.7 148.3,440.9 149.3,441.1 150.3,441.1 151.3,441.0 152.3,441.1 153.3,441.3 154.3,441.4 155.3,441.6 156.3,442.0 157.3,442.3 158.3,442.3 159.3,442.3 160.3,442.5 161.3,442.9 162.3,443.2 163.3,443.6 164.3,444.2 165.3,444.7 166.3,444.7 167.3,444.5 168.3,445.1 169.3,446.1 170.3,446.9 171.3,447.4 172.3,448.0 173.3,448.5 174.3,448.6 175.3,448.6 176.3,449.6 177.3,451.2 178.3,452.3 179.3,452.7 180.3,453.2 181.3,454.0 182.3,454.5 183.3,455.1 184.3,456.3 185.3,458.1 186.3,459.2 187.3,459.3 188.3,459.4 189.3,459.9 190.3,460.5 191.3,460.9 192.3,461.6 193.3,462.5 194.3,462.9 195.3,462.8 196.3,462.8 197.3,463.2 198.3,463.5 199.3,463.7 200.3,463.8 201.3,463.8 202.3,463.8 203.3,463.6 204.3,463.5 205.3,463.6 206.3,463.8 207.3,463.8 208.3,463.8 209.3,463.8 210.3,463.7 211.3,463.6 212.3,463.5 213.3,463.6 214.3,463.8 215.3,463.9 216.3,463.7 217.3,463.6 218.3,463.5 219.3,463.3 220.3,462.9 221.3,462.8 222.3,462.9 223.3,462.6 224.3,461.9 225.3,461.4 226.3,461.2 227.3,461.0 228.3,460.7 229.3,460.6 230.3,460.5 231.3,460.1 232.3,459.4 233.3,458.8 234.3,458.7 235.3,458.7 236.3,458.4 237.3,458.0 238.3,457.7 239.3,457.1 240.3,456.2 241.3,455.5 242.3,455.5 243.3,455.6 244.3,455.2 245.3,454.6 246.3,454.2 247.3,453.9 248.3,453.5 249.3,453.2 250.3,453.2 251.3,453.2 252.3,453.0 253.3,452.5 254.3,452.2 255.3,452.0 256.3,451.7 257.3,451.5 258.3,451.4 259.3,451.4 260.3,451.0 261.3,450.2 262.3,449.7 263.3,449.6 264.3,449.4 265.3,449.2 266.3,449.0 267.3,448.8 268.3,448.6 269.3,448.3 270.3,448.2 271.3,448.4 272.3,448.5 273.3,448.5 274.3,448.5 275.3,448.5 276.3,448.4 277.3,448.2 278.3,448.2 279.3,448.4 280.3,448.6 281.3,448.5 282.3,448.4 283.3,448.4 284.3,448.3 285.3,448.3 286.3,448.3 287.3,448.5 288.3,448.6 289.3,448.5 290.3,448.5 291.3,448.5 292.3,448.8 293.3,449.1 294.3,449.4 295.3,450.0 296.3,450.5 297.3,450.6 298.3,450.5 299.3,450.7 300.3,451.3 301.3,451.8 302.3,452.1 303.3,452.5 304.3,452.8 305.3,452.9 306.3,452.9 307.3,453.2 308.3,453.9 309.3,454.5 310.3,454.8 311.3,455.0 312.3,455.3 313.3,455.5 314.3,455.6 315.3,456.1 316.3,457.1 317.3,457.9 318.3,458.0 319.3,458.0 320.3,458.4 321.3,458.9 322.3,459.2 323.3,459.8 324.3,460.7 325.3,461.3 326.3,461.3 327.3,461.2 328.3,461.6 329.3,462.2 330.3,462.7 331.3,463.2 332.3,463.8 333.3,464.3 334.3,464.3 335.3,464.2 336.3,464.6 337.3,465.6 338.3,466.3 339.3,466.8 340.3,467.2 341.3,467.7 342.3,467.8 343.3,467.9 344.3,468.5 345.3,469.4 346.3,469.9 347.3,470.0 348.3,470.0 349.3,470.2 350.3,470.3 351.3,470.4 352.3,470.6 353.3,470.9 354.3,471.1 355.3,471.1 356.3,471.1 357.3,471.3 358.3,471.5 359.3,471.7 360.3,472.0 361.3,472.6 362.3,472.9 363.3,472.8 364.3,472.8 365.3,473.2 366.3,473.6 367.3,473.8 368.3,474.0 369.3,474.1 370.3,474.2 371.3,474.1 372.3,474.1 373.3,474.3 374.3,474.5 375.3,474.7 376.3,474.6 377.3,474.6 378.3,474.6 379.3,474.5 380.3,474.4 381.3,474.5 382.3,474.7 383.3,474.6 384.3,474.4 385.3,474.3 386.3,474.2 387.3,474.1 388.3,474.0 389.3,474.0 390.3,474.1 391.3,474.0 392.3,473.7 393.3,473.4 394.3,473.2 395.3,473.1 396.3,472.9 397.3,472.7 398.3,472.6 399.3,472.3 400.3,471.6 401.3,471.0 402.3,470.9 403.3,470.9 404.3,470.7 405.3,470.3 406.3,469.9 407.3,469.4 408.3,468.6 409.3,467.9 410.3,467.9 411.3,468.0 412.3,467.6 413.3,466.9 414.3,466.3 415.3,465.8 416.3,465.2 417.3,464.6 418.3,464.6 419.3,464.7 420.3,464.2 421.3,463.3 422.3,462.6 423.3,462.3 424.3,462.0 425.3,461.6 426.3,461.5 427.3,461.4 428.3,461.0 429.3,460.1 430.3,459.6 431.3,459.5 432.3,459.4 433.3,459.1 434.3,458.8 435.3,458.6 436.3,458.2 437.3,457.4 438.3,457.0 439.3,457.0 440.3,457.0 441.3,456.7 442.3,456.2 443.3,455.8 444.3,455.4 445.3,454.9 446.3,454.6 447.3,454.6 448.3,454.7 449.3,454.4 450.3,454.0 451.3,453.7 452.3,453.5 453.3,453.3 454.3,453.1 455.3,453.1 456.3,453.2 457.3,453.0 458.3,452.8 459.3,452.8 460.3,452.8 461.3,452.9 462.3,452.9 463.3,453.0 464.3,453.1 465.3,453.0 466.3,452.8 467.3,452.7 468.3,452.9 469.3,453.0 470.3,453.0 471.3,453.0 472.3,453.1 473.3,453.1 474.3,453.0 475.3,453.0 476.3,453.3 477.3,453.5 478.3,453.6 479.3,453.6 480.3,453.9 481.3,454.1 482.3,454.2 483.3,454.8 484.3,455.8 485.3,456.6 486.3,456.7 487.3,456.6 488.3,456.8 489.3,457.1 490.3,457.3 491.3,457.8 492.3,458.6 493.3,459.4 494.3,459.4 495.3,459.3 496.3,459.7 497.3,460.7 498.3,461.5 499.3,462.1 500.3,462.8 501.3,463.4 502.3,463.4 503.3,463.3 504.3,463.8 505.3,465.0 506.3,466.0 507.3,466.5 508.3,467.0 509.3,467.7 510.3,468.1 511.3,468.4 512.3,469.5 513.3,471.2 514.3,472.5 515.3,472.9 516.3,473.3 517.3,474.1 518.3,474.9 519.3,475.6 520.3,476.8 521.3,478.4 522.3,479.6 523.3,480.0 524.3,480.2 525.3,481.2 526.3,482.4 527.3,483.4 528.3,484.6 529.3,486.0 530.3,487.1 531.3,487.4 532.3,487.7 533.3,488.8 534.3,490.4 535.3,491.7 536.3,492.7 537.3,493.8 538.3,494.7 539.3,495.1 540.3,495.6 541.3,496.9 542.3,498.7 543.3,500.0 544.3,500.7 545.3,501.5 546.3,502.4 547.3,503.1 548.3,503.8 549.3,505.2 550.3,507.0 551.3,508.2 552.3,508.6 553.3,509.1 554.3,510.0 555.3,511.0 556.3,511.9 557.3,513.2 558.3,514.8 559.3,515.8 560.3,515.9 561.3,516.2 562.3,517.3 563.3,518.6 564.3,519.7 565.3,520.7 566.3,521.8 567.3,522.6 568.3,522.7 569.3,523.0 570.3,524.3 571.3,525.8 572.3,526.7 573.3,527.4 574.3,528.1 575.3,528.7 576.3,528.8 577.3,529.1 578.3,530.3 579.3,531.8 580.3,532.5 581.3,532.6 582.3,532.9 583.3,533.4 584.3,533.8 585.3,534.2 586.3,535.2 587.3,536.3 588.3,536.7 589.3,536.6 590.3,536.8 591.3,537.4 592.3,538.0 593.3,538.5 594.3,539.2 595.3,539.9 596.3,540.1 597.3,540.1 598.3,540.3 599.3,540.8 600.3,541.2 601.3,541.5 602.3,541.7 603.3,541.9 604.3,542.1 605.3,542.2 606.3,542.3 607.3,542.6 608.3,542.7 609.3,542.9 610.3,543.0 611.3,543.1 612.3,543.2 613.3,543.3 614.3,543.3 615.3,543.4 616.3,543.5 617.3,543.5 618.3,543.6 619.3,543.7 620.3,543.7 621.3,543.8 622.3,543.8 623.3,543.9 624.3,543.9 625.3,543.9 626.3,544.0 627.3,544.0 628.3,544.0 629.3,544.0 630.3,544.0 631.3,544.0 632.3,544.0 633.3,544.0 634.3,544.0 635.3,544.0 636.3,544.0 637.3,544.0 638.3,544.0 639.3,544.0 640.3,544.0 641.3,544.0 642.3,544.0 643.3,544.0 644.3,544.0 645.3,544.0 646.3,544.0 647.3,544.0 648.3,544.0 649.3,544.0 650.3,544.0 651.3,544.0 652.3,544.0 653.3,544.0 654.3,544.0 655.3,544.0 656.3,544.0 657.3,544.0 658.3,544.0 659.3,544.0 659.5,544.0"/>
<polyline fill="none" stroke="#000" stroke-width="3.3" stroke-linejoin="round" stroke-linecap="butt" points="96.6,380.0 98.4,436.0 100.5,465.0 103.1,471.2 104.5,463.3 106.2,458.0 110.6,455.4 113.6,461.5 116.3,460.2 122.4,462.8 125.0,466.3 128.5,466.1 129.5,467.2 130.5,468.3 131.5,468.6 132.5,468.4 133.5,468.2 134.5,468.2 135.5,468.3 136.5,468.3 137.5,468.4 138.5,469.3 139.5,469.4 140.5,469.3 141.5,469.2 142.5,469.3 143.5,469.5 144.5,469.6 145.5,469.4 146.5,469.3 147.5,469.4 148.5,469.7 149.5,470.2 150.5,470.8 151.5,471.3 152.5,471.5 153.5,471.5 154.5,471.5 155.5,471.7 156.5,471.9 157.5,472.1 158.5,472.3 159.5,472.7 160.5,472.8 161.5,472.8 162.5,472.8 163.5,473.3 164.5,474.0 165.5,474.5 166.5,474.9 167.5,475.3 168.5,475.6 169.5,475.6 170.5,475.8 171.5,476.5 172.5,477.4 173.5,477.8 174.5,477.9 175.5,478.2 176.5,478.5 177.5,478.7 178.5,479.0 179.5,479.8 180.5,480.9 181.5,481.3 182.5,481.3 183.5,481.5 184.5,482.1 185.5,482.8 186.5,483.4 187.5,484.3 188.5,485.1 189.5,485.3 190.5,485.1 191.5,485.3 192.5,485.8 193.5,486.2 194.5,486.5 195.5,486.8 196.5,487.1 197.5,487.2 198.5,487.2 199.5,487.3 200.5,487.7 201.5,488.2 202.5,488.4 203.5,488.6 204.5,488.8 205.5,489.0 206.5,489.0 207.5,489.3 208.5,489.9 209.5,490.5 210.5,490.6 211.5,490.6 212.5,490.8 213.5,491.0 214.5,491.1 215.5,491.2 216.5,491.4 217.5,491.5 218.5,491.4 219.5,491.2 220.5,491.2 221.5,491.2 222.5,491.3 223.5,491.3 224.5,491.4 225.5,491.5 226.5,491.4 227.5,491.2 228.5,491.1 229.5,491.3 230.5,491.4 231.5,491.4 232.5,491.4 233.5,491.4 234.5,491.3 235.5,491.0 236.5,491.1 237.5,492.6 238.5,493.6 239.5,493.5 240.5,493.4 241.5,493.4 242.5,493.3 243.5,493.3 244.5,493.3 245.5,493.5 246.5,493.6 247.5,493.5 248.5,493.3 249.5,493.3 250.5,493.3 251.5,493.3 252.5,493.4 253.5,493.5 254.5,493.6 255.5,493.5 256.5,493.3 257.5,493.2 258.5,493.4 259.5,493.4 260.5,493.4 261.5,493.5 262.5,493.5 263.5,493.4 264.5,493.2 265.5,493.2 266.5,493.4 267.5,493.5 268.5,493.5 269.5,493.5 270.5,493.4 271.5,493.3 272.5,493.2 273.5,493.3 274.5,493.5 275.5,493.6 276.5,493.5 277.5,493.4 278.5,493.3 279.5,493.3 280.5,493.3 281.5,493.3 282.5,493.5 283.5,493.6 284.5,493.4 285.5,493.3 286.5,493.3 287.5,493.3 288.5,493.4 289.5,493.4 290.5,493.6 291.5,493.7 292.5,493.7 293.5,493.6 294.5,493.8 295.5,494.1 296.5,494.4 297.5,494.5 298.5,494.8 299.5,494.9 300.5,494.9 301.5,494.9 302.5,495.2 303.5,495.6 304.5,495.9 305.5,495.9 306.5,496.1 307.5,496.2 308.5,496.3 309.5,496.4 310.5,496.8 311.5,497.3 312.5,497.6 313.5,497.6 314.5,497.6 315.5,497.9 316.5,498.2 317.5,498.4 318.5,498.8 319.5,499.4 320.5,499.6 321.5,499.6 322.5,499.6 323.5,499.9 324.5,500.3 325.5,500.6 326.5,500.9 327.5,501.2 328.5,501.4 329.5,501.3 330.5,501.4 331.5,501.7 332.5,502.1 333.5,502.4 334.5,502.5 335.5,502.7 336.5,502.8 337.5,502.8 338.5,502.9 339.5,503.2 340.5,503.6 341.5,503.8 342.5,503.8 343.5,503.9 344.5,504.0 345.5,504.1 346.5,504.3 347.5,504.6 348.5,505.0 349.5,505.2 350.5,505.2 351.5,505.2 352.5,505.5 353.5,505.8 354.5,505.9 355.5,506.1 356.5,506.2 357.5,506.1 358.5,505.9 359.5,505.8 360.5,505.9 361.5,506.0 362.5,506.1 363.5,506.1 364.5,506.1 365.5,506.0 366.5,505.9 367.5,505.8 368.5,506.0 369.5,506.1 370.5,506.1 371.5,506.0 372.5,506.0 373.5,506.0 374.5,505.9 375.5,505.8 376.5,506.0 377.5,506.2 378.5,506.1 379.5,506.0 380.5,505.9 381.5,505.9 382.5,505.9 383.5,505.9 384.5,506.1 385.5,506.2 386.5,506.1 387.5,505.9 388.5,505.8 389.5,505.9 390.5,506.0 391.5,506.0 392.5,506.1 393.5,506.2 394.5,506.1 395.5,505.9 396.5,505.8 397.5,505.9 398.5,506.0 399.5,505.8 400.5,505.6 401.5,505.3 402.5,504.8 403.5,504.2 404.5,503.9 405.5,504.0 406.5,504.0 407.5,503.7 408.5,503.3 409.5,503.1 410.5,502.9 411.5,502.6 412.5,502.5 413.5,502.5 414.5,502.5 415.5,502.2 416.5,501.9 417.5,501.7 418.5,501.6 419.5,501.4 420.5,501.3 421.5,501.3 422.5,501.2 423.5,500.9 424.5,500.5 425.5,500.3 426.5,500.3 427.5,500.2 428.5,500.1 429.5,500.0 430.5,499.8 431.5,499.5 432.5,499.1 433.5,499.0 434.5,499.0 435.5,499.0 436.5,498.7 437.5,498.5 438.5,498.2 439.5,498.0 440.5,497.7 441.5,497.6 442.5,497.6 443.5,497.6 444.5,497.4 445.5,497.2 446.5,497.0 447.5,496.9 448.5,496.8 449.5,496.8 450.5,496.9 451.5,496.9 452.5,496.6 453.5,496.4 454.5,496.3 455.5,496.4 456.5,496.4 457.5,496.4 458.5,496.4 459.5,496.4 460.5,496.2 461.5,496.0 462.5,496.0 463.5,496.2 464.5,496.2 465.5,496.2 466.5,496.1 467.5,496.1 468.5,496.0 469.5,495.8 470.5,495.9 471.5,496.1 472.5,496.2 473.5,496.1 474.5,496.1 475.5,496.2 476.5,496.3 477.5,496.4 478.5,496.7 479.5,497.2 480.5,497.5 481.5,497.5 482.5,497.5 483.5,497.7 484.5,498.0 485.5,498.2 486.5,498.5 487.5,498.9 488.5,499.2 489.5,499.1 490.5,499.1 491.5,499.5 492.5,500.0 493.5,500.4 494.5,500.8 495.5,501.3 496.5,501.6 497.5,501.5 498.5,501.6 499.5,502.2 500.5,503.0 501.5,503.4 502.5,503.6 503.5,503.9 504.5,504.1 505.5,504.2 506.5,504.4 507.5,505.0 508.5,505.7 509.5,506.1 510.5,506.1 511.5,506.2 512.5,506.6 513.5,506.8 514.5,507.1 515.5,507.8 516.5,508.6 517.5,508.9 518.5,508.8 519.5,508.9 520.5,509.4 521.5,510.0 522.5,510.5 523.5,511.1 524.5,511.9 525.5,512.2 526.5,512.0 527.5,512.2 528.5,513.0 529.5,514.0 530.5,514.6 531.5,515.1 532.5,515.7 533.5,516.0 534.5,515.9 535.5,516.2 536.5,517.3 537.5,518.4 538.5,518.9 539.5,519.1 540.5,519.4 541.5,519.8 542.5,520.0 543.5,520.5 544.5,521.5 545.5,522.6 546.5,522.9 547.5,522.8 548.5,523.1 549.5,523.7 550.5,524.2 551.5,524.7 552.5,525.6 553.5,526.5 554.5,526.8 555.5,526.6 556.5,526.8 557.5,527.7 558.5,528.5 559.5,529.0 560.5,529.7 561.5,530.4 562.5,530.5 563.5,530.4 564.5,530.7 565.5,531.7 566.5,532.5 567.5,533.0 568.5,533.3 569.5,533.7 570.5,533.9 571.5,534.0 572.5,534.4 573.5,535.3 574.5,536.1 575.5,536.3 576.5,536.3 577.5,536.6 578.5,536.9 579.5,537.2 580.5,537.5 581.5,538.3 582.5,538.8 583.5,538.9 584.5,538.9 585.5,539.1 586.5,539.5 587.5,539.9 588.5,540.2 589.5,540.7 590.5,541.2 591.5,541.2 592.5,541.1 593.5,541.4 594.5,541.9 595.5,542.3 596.5,542.6 597.5,542.8 598.5,543.0 599.5,543.1 600.5,543.1 601.5,543.2 602.5,543.5 603.5,543.6 604.5,543.7 605.5,543.8 606.5,543.9 607.5,544.0 608.5,544.0 609.5,544.1 610.5,544.2 611.5,544.2 612.5,544.2 613.5,544.2 614.5,544.2 615.5,544.2 616.5,544.2 617.5,544.2 618.5,544.2 619.5,544.2 620.5,544.2 621.5,544.2 622.5,544.2 623.5,544.2 624.5,544.2 625.5,544.2 626.5,544.2 627.5,544.2 628.5,544.2 629.5,544.2 630.5,544.2 631.5,544.2 632.5,544.2 633.5,544.2 634.5,544.2 635.5,544.2 636.5,544.2 637.5,544.2 638.5,544.2 639.5,544.2 640.5,544.2 641.5,544.2 642.5,544.2 643.5,544.2 644.5,544.2 645.5,544.2 646.5,544.2 647.5,544.2 648.5,544.2 649.5,544.2 650.5,544.2 651.5,544.2 652.5,544.2 653.5,544.2 654.5,544.2 655.5,544.2 656.5,544.2 657.5,544.2 658.5,544.2 659.5,544.2"/>
</g>
<polygon fill="#000" points="612,541 626,540.1 660,540.1 660,546.3 612,546.3"/>
<g font-family="'Liberation Sans',Arial,sans-serif" font-size="12.95" fill="#000" stroke="#000" stroke-width="0.45" vector-effect="non-scaling-stroke"><text vector-effect="non-scaling-stroke" transform="translate(90.3,8.8) scale(1.475,1)" text-anchor="end">1,500</text><text vector-effect="non-scaling-stroke" transform="translate(90.3,190.0) scale(1.475,1)" text-anchor="end">1,000</text><text vector-effect="non-scaling-stroke" transform="translate(90.3,369.7) scale(1.475,1)" text-anchor="end">0,500</text><text vector-effect="non-scaling-stroke" transform="translate(90.3,550.2) scale(1.475,1)" text-anchor="end">0,000</text><text vector-effect="non-scaling-stroke" transform="translate(63.5,567.55) scale(1.497,1)">200,00</text><text vector-effect="non-scaling-stroke" transform="translate(289.5,567.55) scale(1.497,1)">250,00</text><text vector-effect="non-scaling-stroke" transform="translate(514,567.55) scale(1.497,1)">300,00</text><text vector-effect="non-scaling-stroke" transform="translate(626.7,567.55) scale(1.497,1)">325,00</text></g>
<text font-family="'Liberation Sans',Arial,sans-serif" font-size="19.8" stroke="#000" stroke-width="0.25" transform="translate(14.2,283.0) rotate(-90) scale(0.642,1)">Abs.</text>
<text font-family="'Liberation Sans',Arial,sans-serif" font-size="13.3" stroke="#000" stroke-width="0.2" transform="translate(361.4,582.8) scale(1.39,1)">nm.</text>
</svg></body></html>
